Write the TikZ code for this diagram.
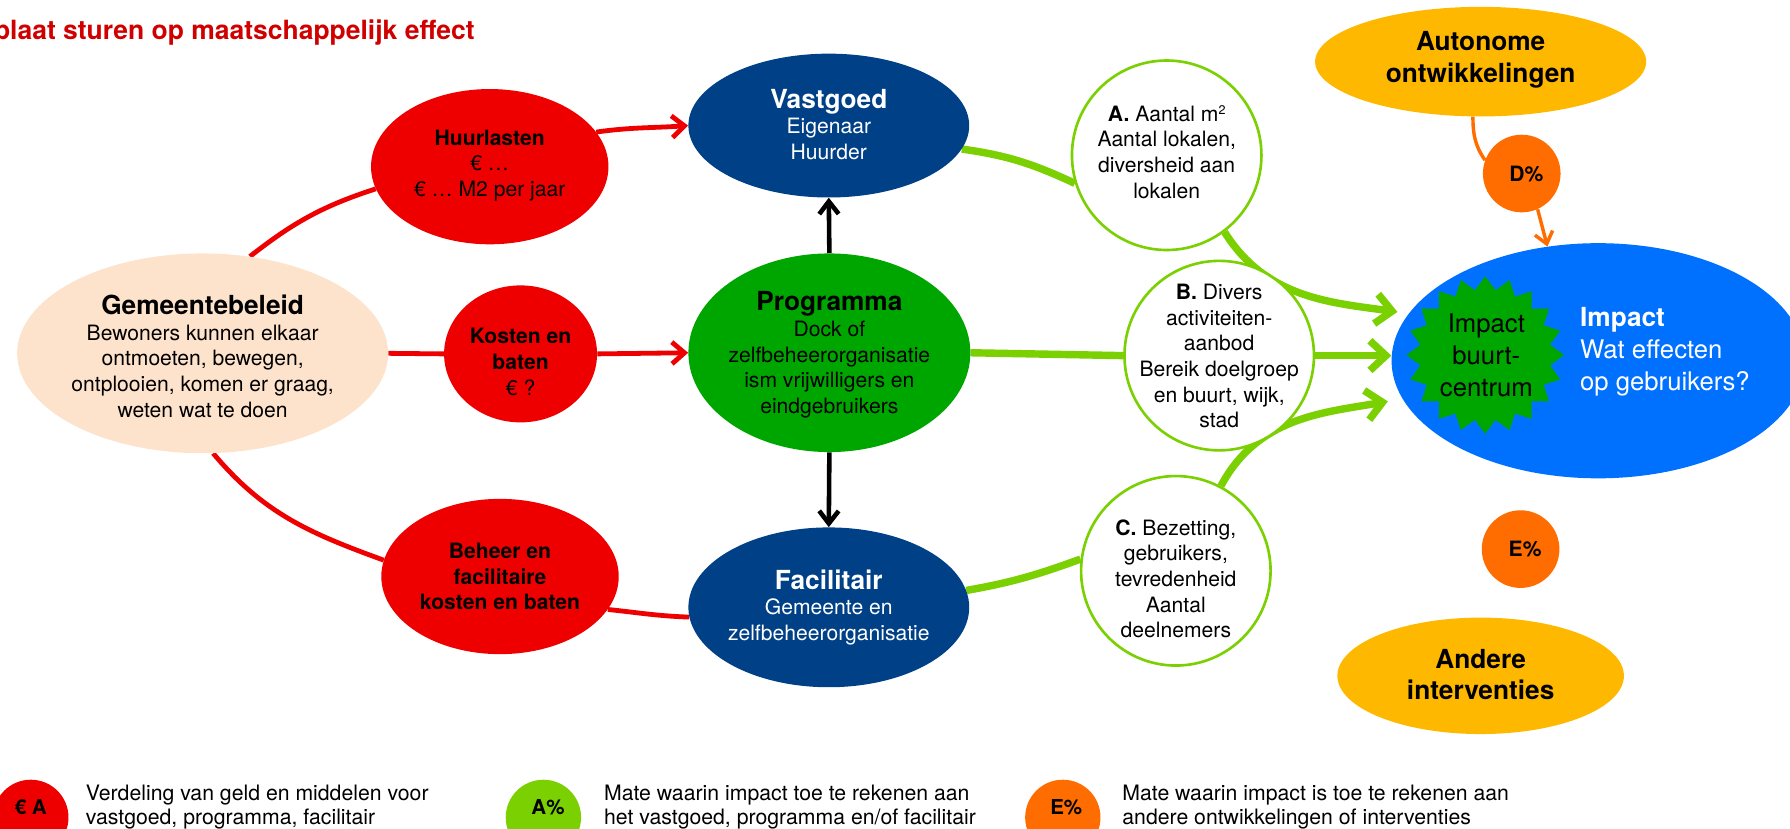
\documentclass[tikz,border=0pt]{standalone}
\usepackage{fontspec}
\setmainfont{TeX Gyre Heros}
\usetikzlibrary{shapes.geometric,arrows.meta,backgrounds}
\definecolor{cred}{RGB}{238,0,0}
\definecolor{ctitle}{RGB}{208,0,0}
\definecolor{cpeach}{RGB}{253,227,204}
\definecolor{cnavy}{RGB}{0,64,135}
\definecolor{cgreen}{RGB}{0,166,0}
\definecolor{clime}{RGB}{122,208,0}
\definecolor{cblue}{RGB}{0,112,255}
\definecolor{cyellow}{RGB}{255,184,0}
\definecolor{corange}{RGB}{255,109,0}
\newcommand\bighead{\fontsize{23}{26}\selectfont\bfseries}
\begin{document}
\begin{tikzpicture}[x=1pt,y=1pt,
  ell/.style={ellipse, inner sep=0pt, draw=none},
  circ/.style={circle, inner sep=0pt},
  ring/.style={circle, inner sep=0pt, draw=clime, line width=2.3pt, fill=white, minimum size=166pt},
  body/.style={align=center, inner sep=0pt, font=\fontsize{18.5}{22.5}\selectfont},
  legtxt/.style={align=left, anchor=west, inner sep=0pt, font=\fontsize{18.6}{21.5}\selectfont},
  redline/.style={draw=cred, line width=4.2pt},
  redarrow/.style={redline, -{Straight Barb[length=11pt,width=19pt]}},
  blackarrow/.style={draw=black, line width=4pt, -{Straight Barb[length=11pt,width=17pt]}},
  greenline/.style={draw=clime, line width=6.5pt},
  greenarrow/.style={greenline, -{Straight Barb[length=14pt,width=26pt]}},
  orangeline/.style={draw=corange, line width=3pt},
  orangearrow/.style={orangeline, -{Straight Barb[length=10pt,width=16pt]}}
]
\useasboundingbox (0,0) rectangle (1568,-726);

% title
\node[anchor=base east, inner sep=0pt, text=ctitle, font=\fontsize{23.2}{26}\selectfont\bfseries] (title) at (416,-35) {plaat sturen op maatschappelijk effect};

% left side
\node[ell, fill=cpeach, minimum width=325pt, minimum height=175pt] (gem) at (177.5,-309.5) {};
\node[body] (gemT) at (177.5,-312) {{\bighead Gemeentebeleid}\\Bewoners kunnen elkaar\\ontmoeten, bewegen,\\ontplooien, komen er graag,\\weten wat te doen};

\node[ell, fill=cred, minimum width=208pt, minimum height=136pt] (huur) at (429,-146) {};
\node[body] (huurT) at (429,-145) {\textbf{Huurlasten}\\€ …\\€ … M2 per jaar};

\node[ell, fill=cred, minimum width=134pt, minimum height=120pt] (kost) at (456,-310) {};
\node[body] (kostT) at (456,-317) {\textbf{Kosten en}\\\textbf{baten}\\€ ?};

\node[ell, fill=cred, minimum width=208pt, minimum height=136pt] (beh) at (438,-505) {};
\node[body] (behT) at (438,-505) {\textbf{Beheer en}\\\textbf{facilitaire}\\\textbf{kosten en baten}};

% middle column
\node[ell, fill=cnavy, minimum width=246pt, minimum height=126pt] (vast) at (726,-110) {};
\node[body, text=white] (vastT) at (726,-109) {{\bighead Vastgoed}\\Eigenaar\\Huurder};

\node[ell, fill=cgreen, minimum width=247pt, minimum height=174pt] (prog) at (726.5,-309) {};
\node[body] (progT) at (726.5,-311) {{\bighead Programma}\\Dock of\\zelfbeheerorganisatie\\ism vrijwilligers en\\eindgebruikers};

\node[ell, fill=cnavy, minimum width=246pt, minimum height=140pt] (fac) at (726,-532) {};
\node[body, text=white] (facT) at (726,-532) {{\bighead Facilitair}\\Gemeente en\\zelfbeheerorganisatie};

% indicator circles
\node[ring] (A) at (1022,-136) {};
\node[body] (AT) at (1022,-133) {\textbf{A.} Aantal m{\fontsize{11}{11}\selectfont\raisebox{6pt}{2}}\\Aantal lokalen,\\diversheid aan\\lokalen};
\node[ring] (B) at (1068,-311.5) {};
\node[body] (BT) at (1068,-312) {\textbf{B.} Divers\\activiteiten-\\aanbod\\Bereik doelgroep\\en buurt, wijk,\\stad};
\node[ring] (C) at (1030,-500) {};
\node[body] (CT) at (1030,-507) {\textbf{C.} Bezetting,\\gebruikers,\\tevredenheid\\Aantal\\deelnemers};

% right side
\node[ell, fill=cblue, minimum width=362pt, minimum height=206pt] (imp) at (1400,-316) {};
\node[star, star points=20, star point ratio=1.2, minimum size=138pt, inner sep=0pt, fill=cgreen] (star) at (1301,-311) {};
\node[align=center, inner sep=0pt, font=\fontsize{22.5}{28}\selectfont] (starT) at (1302,-311) {Impact\\buurt-\\centrum};
\node[align=left, anchor=west, inner sep=0pt, text=white, font=\fontsize{22.5}{28}\selectfont] (impT) at (1384,-308) {{\bighead Impact}\\Wat effecten\\op gebruikers?};

\node[ell, fill=cyellow, minimum width=290pt, minimum height=96pt] (aut) at (1297,-54) {};
\node[align=center, inner sep=0pt, font=\fontsize{23}{28}\selectfont\bfseries] (autT) at (1297,-52) {Autonome\\ontwikkelingen};
\node[circ, fill=corange, minimum size=68pt, font=\fontsize{18.5}{22}\selectfont\bfseries] (D) at (1333,-152) {\hspace*{8pt}D\%};
\node[circ, fill=corange, minimum size=68pt, font=\fontsize{18.5}{22}\selectfont\bfseries] (E) at (1332,-481) {\hspace*{8pt}E\%};
\node[ell, fill=cyellow, minimum width=251pt, minimum height=102pt] (and) at (1297,-592) {};
\node[align=center, inner sep=0pt, font=\fontsize{23}{27}\selectfont\bfseries] (andT) at (1297,-591) {Andere\\interventies};

% legend
\node[circ, fill=cred, minimum size=66pt] (l1) at (27,-716) {};
\node[inner sep=0pt, font=\fontsize{18}{21}\selectfont\bfseries] (l1T) at (27,-707) {€ A};
\node[legtxt] (l1L) at (75,-707) {Verdeling van geld en middelen voor\\vastgoed, programma, facilitair};
\node[circ, fill=clime, minimum size=66pt] (l2) at (476,-716) {};
\node[inner sep=0pt, font=\fontsize{18}{21}\selectfont\bfseries] (l2T) at (480,-707) {A\%};
\node[legtxt] (l2L) at (529,-707) {Mate waarin impact toe te rekenen aan\\het vastgoed, programma en/of facilitair};
\node[circ, fill=corange, minimum size=66pt] (l3) at (931,-716) {};
\node[inner sep=0pt, font=\fontsize{18}{21}\selectfont\bfseries] (l3T) at (934,-707) {E\%};
\node[legtxt] (l3L) at (983,-707) {Mate waarin impact is toe te rekenen aan\\andere ontwikkelingen of interventies};

% connectors
\begin{scope}[on background layer]
\draw[redline] (gem.64) to[out=38,in=198] (huur.191);
\draw[redarrow] (huur.18) to[out=8,in=184] (vast.180);
\draw[redline] (gem.east) -- (kost.west);
\draw[redarrow] (kost.east) -- (prog.west);
\draw[redline] (gem.-84) to[out=-50,in=160] (beh.172);
\draw[redline] (beh.-17) to[out=-6,in=178] (fac.184);

\draw[blackarrow] (prog.north) -- (vast.south);
\draw[blackarrow] (prog.south) -- (fac.north);

\draw[greenline] (vast.-10) to[out=-8,in=155] (A.197);
\draw[greenarrow, shorten >=10pt] (A.-53) to[out=-58,in=172] (imp.166);
\draw[greenline] (prog.east) -- (B.west);
\draw[greenarrow] (B.east) -- (B.east -| imp.west);
\draw[greenline] (fac.7) to[out=10,in=200] (C.173);
\draw[greenarrow, shorten >=13pt] (C.62) to[out=62,in=190] (imp.191);

\draw[orangeline] (aut.-98) to[out=-90,in=125] (D.160);
\draw[orangearrow] (D.-66) -- (imp.114);
\end{scope}
\end{tikzpicture}
\end{document}
